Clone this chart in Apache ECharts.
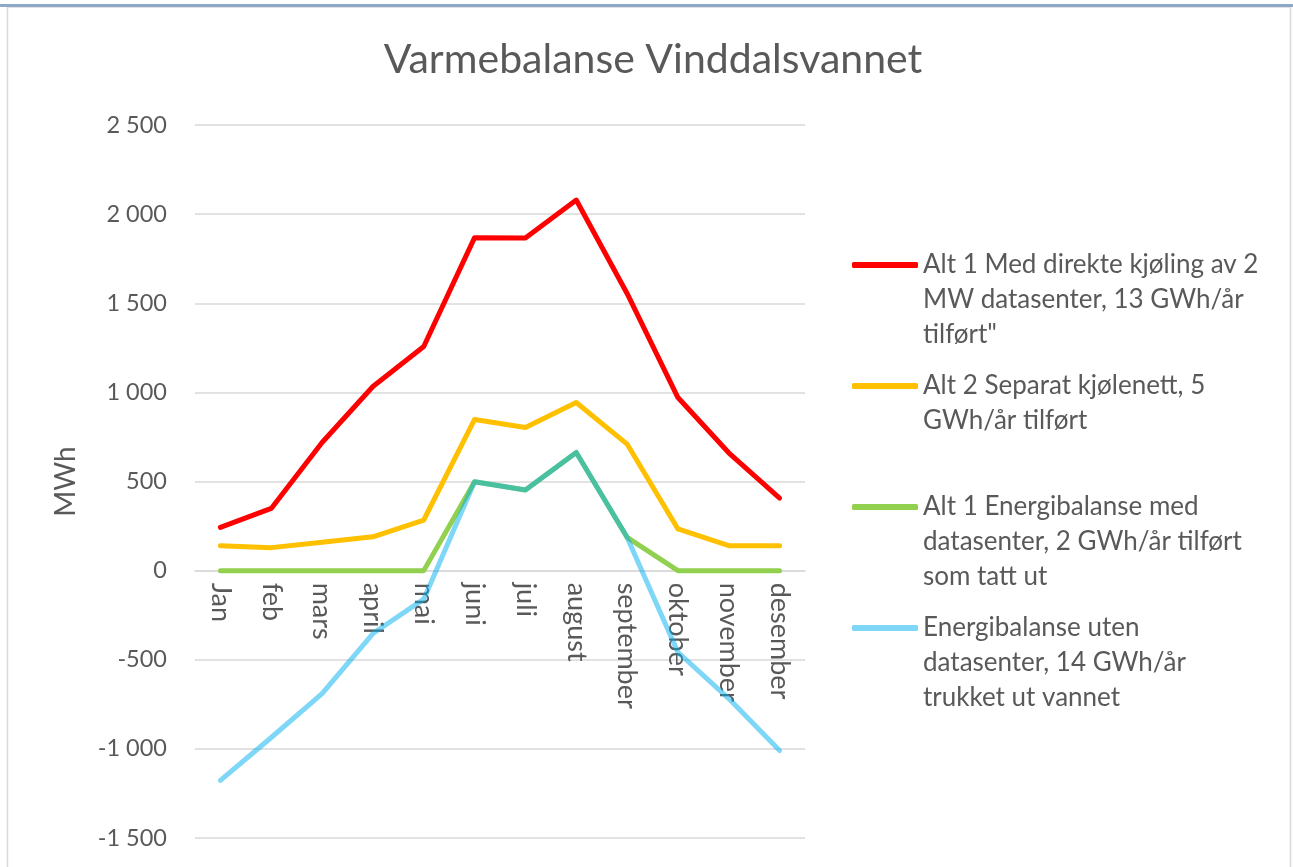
<!DOCTYPE html>
<html>
<head>
<meta charset="utf-8">
<script src="https://cdn.jsdelivr.net/npm/echarts@6/dist/echarts.min.js"></script>
<style>
  html, body { margin: 0; padding: 0; background: #fff; }
  #chart { width: 1293px; height: 867px; }
</style>
</head>
<body>
<div id="chart"></div>
<script>
// months on the x axis
let months = ['Jan','feb','mars','april','mai','juni','juli','august','september','oktober','november','desember'];
// MWh per month
let alt1Direkte = [243, 349, 719, 1033, 1257, 1868, 1866, 2079, 1555, 971, 661, 407];
let alt2Separat = [140, 129, 159, 190, 284, 848, 803, 943, 710, 234, 140, 140];
let alt1Balanse = [0, 0, 0, 0, 0, 499, 452, 663, 187, 0, 0, 0];
let utenDatasenter = [-1177, -936, -690, -353, -160, 499, 452, 663, 187, -458, -718, -1009];
// y axis
let yMin = -1500, yMax = 2500, yStep = 500;

let names = [
    'Alt 1 Med direkte kjøling av 2\nMW datasenter, 13 GWh/år\ntilført"',
    'Alt 2 Separat kjølenett, 5\nGWh/år tilført',
    'Alt 1 Energibalanse med\ndatasenter, 2 GWh/år tilført\nsom tatt ut',
    'Energibalanse uten\ndatasenter, 14 GWh/år\ntrukket ut vannet'
];
let colors = ['#FF0000', '#FFC000', '#92D050', 'rgba(0,176,240,0.5)'];

let fontFam = 'Lato, "Open Sans", sans-serif';
let textCol = '#595959';
let lineH = 35;
let gridTop = 125, gridBottom = 29, chartH = 867;

let fmt = (v)=>{
    let s = String(Math.abs(v)).replace(/\B(?=(\d{3})+(?!\d))/g, ' ');
    return (v < 0 ? '-' : '') + s;
};

// category axis sits on the zero line: shift it up from the grid bottom
let plotH = chartH - gridTop - gridBottom;
let zeroShift = plotH * (0 - yMin) / (yMax - yMin);

// one legend per series; blank lines in front keep the icon level with the first text line
let legendCentres = [265, 386, 507, 628];
let legends = names.map((n, i)=>{
    let lines = n.split('\n').length;
    let blanks = lines - 1;
    let boxH = (lines + blanks) * lineH;
    return {
        data: [n],
        formatter: (name)=> '\n'.repeat(blanks) + name,
        orient: 'vertical',
        left: 852,
        top: legendCentres[i] - boxH / 2,
        padding: 0,
        icon: 'roundRect',
        itemWidth: 66,
        itemHeight: 6,
        selectedMode: false,
        textStyle: {
            color: textCol,
            fontSize: 26,
            fontFamily: fontFam,
            lineHeight: lineH
        }
    };
});

let seriesData = [alt1Direkte, alt2Separat, alt1Balanse, utenDatasenter];
let series = seriesData.map((d, i)=>({
    name: names[i],
    type: 'line',
    data: d,
    symbol: 'none',
    color: colors[i],
    lineStyle: { width: 5, color: colors[i], cap: 'round', join: 'round' },
    z: 2 + i
}));

var myChart = echarts.init(document.getElementById('chart'));
let option = {
    backgroundColor: '#fff',
    animation: false,
    title: {
        text: 'Varmebalanse Vinddalsvannet',
        left: 648,
        top: 34,
        textAlign: 'center',
        textStyle: { color: textCol, fontSize: 41, fontWeight: 'normal', fontFamily: fontFam }
    },
    legend: legends,
    grid: { left: 195, right: 488, top: gridTop, bottom: gridBottom, containLabel: false, outerBoundsMode: 'none' },
    xAxis: {
        type: 'category',
        data: months,
        boundaryGap: true,
        offset: -zeroShift,
        axisLine: { onZero: false, lineStyle: { color: '#D9D9D9', width: 1.5 } },
        axisTick: { show: false },
        axisLabel: { rotate: -90, color: textCol, fontSize: 27, fontFamily: fontFam, margin: 12 }
    },
    yAxis: {
        type: 'value',
        min: yMin,
        max: yMax,
        interval: yStep,
        name: 'MWh',
        nameLocation: 'middle',
        nameGap: 115,
        nameRotate: 90,
        nameTextStyle: { color: textCol, fontSize: 28, fontFamily: fontFam },
        axisLine: { show: false },
        axisTick: { show: false },
        splitLine: { lineStyle: { color: '#D9D9D9', width: 1.5 } },
        axisLabel: { color: textCol, fontSize: 23.5, fontFamily: fontFam, margin: 28, formatter: fmt }
    },
    graphic: [
        { type: 'rect', shape: { x: 7.5, y: 7, width: 1283, height: 870 }, style: { fill: 'none', stroke: '#D9D9D9', lineWidth: 1.5 }, silent: true },
        { type: 'rect', shape: { x: 0, y: 4, width: 1293, height: 3 }, style: { fill: '#8EA9C8' }, silent: true }
    ],
    series: series
};
myChart.setOption(option);
</script>
</body>
</html>
